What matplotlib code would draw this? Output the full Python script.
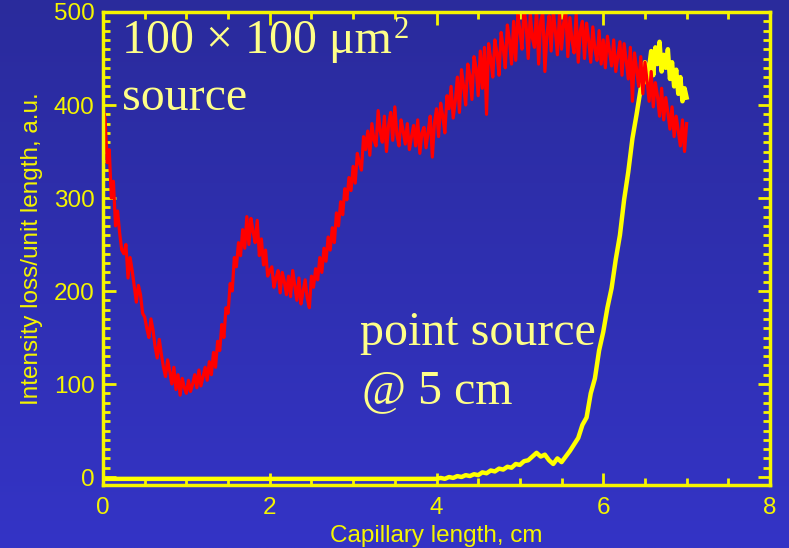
import numpy as np
import matplotlib
matplotlib.use("Agg")
import matplotlib.pyplot as plt
from matplotlib.ticker import MultipleLocator

# red curve: 100x100 um^2 source, sampled every 0.025 cm from 0 to 7 cm
red_y = [
    # 0 - 1 cm
    398, 385, 338, 352, 300, 318, 270, 286, 262, 244, 240, 250, 214, 236, 222, 205, 188, 206, 196, 176,
    172, 160, 150, 170, 158, 140, 128, 148, 132, 118, 108, 126, 114, 100, 118, 94, 110, 88, 106, 96, 90,
    # 1 - 2 cm
    104, 92, 100, 110, 96, 115, 98, 108, 118, 104, 124, 110, 134, 118, 146, 136, 164, 150, 182, 176,
    208, 200, 236, 226, 252, 238, 266, 246, 280, 250, 278, 264, 252, 276, 238, 256, 228, 244, 216, 222,
    # 2 - 3 cm
    226, 204, 214, 222, 198, 220, 210, 196, 216, 194, 222, 206, 190, 214, 186, 200, 212, 192, 182, 216,
    204, 224, 212, 236, 220, 246, 232, 258, 244, 268, 252, 284, 270, 296, 282, 310, 298, 322, 308, 334,
    # 3 - 4 cm
    316, 348, 338, 330, 366, 352, 372, 346, 380, 362, 356, 394, 372, 360, 388, 350, 378, 392, 362, 398,
    368, 356, 384, 372, 358, 380, 352, 366, 378, 356, 384, 348, 370, 376, 354, 372, 388, 344, 380, 396,
    # 4 - 5 cm
    366, 402, 388, 370, 410, 396, 420, 386, 404, 430, 392, 438, 420, 400, 444, 432, 406, 452, 440, 410,
    458, 418, 462, 390, 466, 450, 430, 470, 456, 432, 478, 462, 440, 486, 470, 444, 490, 448, 498, 480,
    # 5 - 6 cm
    460, 504, 486, 450, 498, 472, 462, 504, 444, 490, 500, 436, 476, 496, 458, 502, 480, 454, 498, 460,
    488, 502, 452, 494, 470, 456, 498, 446, 480, 490, 450, 488, 470, 446, 484, 460, 448, 480, 444, 470,
    # 6 - 7 cm
    440, 474, 458, 442, 470, 436, 452, 468, 432, 466, 448, 428, 462, 404, 456, 438, 420, 452, 412, 446,
    426, 404, 436, 398, 424, 410, 388, 418, 384, 408, 392, 374, 398, 366, 388, 372, 356, 384, 350, 380,
]
red_x = np.linspace(0, 7, len(red_y))

# yellow curve: point source @ 5 cm
yel_x = [0, 1, 2, 3] + list(np.round(np.linspace(4, 6.4, 49), 3)) + list(np.round(np.linspace(6.425, 7, 24), 3))
yel_y = [-2, -2, -2, -2,
         -2, -1, -2, 0, -1, 1, 0, 2, 1, 3,
         2, 5, 4, 7, 6, 9, 8, 11, 10, 14,
         13, 17, 18, 22, 26, 22, 24, 18, 14, 20,
         16, 22, 28, 35, 42, 56, 64, 90, 106, 136,
         156, 182, 203, 234, 260, 298, 328, 364, 390,
         404, 418, 430, 446, 424, 440, 458, 432, 462, 444, 468, 436,
         454, 440, 460, 428, 446, 420, 438, 412, 430, 404, 418, 408]

x_ticks = [0, 2, 4, 6, 8]
y_ticks = [0, 100, 200, 300, 400, 500]

yellow = '#f5f500'
pale = '#ffff88'
sans = 'Liberation Sans'
serif = 'Liberation Serif'

fig = plt.figure(figsize=(7.89, 5.48), dpi=100)

# background gradient, a bit darker at the top
top = np.array([0x2a, 0x2b, 0x9c]) / 255
bot = np.array([0x34, 0x34, 0xc6]) / 255
t = np.linspace(0, 1, 256)[:, None]
grad = top[None, :] * (1 - t) + bot[None, :] * t
bg = fig.add_axes([0, 0, 1, 1], zorder=-1)
bg.imshow(grad[:, None, :].repeat(2, axis=1), aspect='auto', extent=[0, 1, 0, 1])
bg.axis('off')

ax = fig.add_axes([103 / 789, 1 - 485 / 548, 667 / 789, 473 / 548])
ax.patch.set_alpha(0)

ax.plot(yel_x, yel_y, color='#ffff00', lw=3.2)
ax.plot(red_x, red_y, color='#ff0000', lw=2.3)

ax.set_xlim(0, 8)
ax.set_ylim(-8.6, 500)
ax.set_xticks(x_ticks)
ax.set_yticks(y_ticks)
ax.xaxis.set_minor_locator(MultipleLocator(0.5))
ax.yaxis.set_minor_locator(MultipleLocator(10))
ax.tick_params(which='both', direction='in', top=True, right=True, color=yellow, width=2)
ax.tick_params(which='major', length=9)
ax.tick_params(which='minor', length=5)
ax.tick_params(axis='x', pad=9)
ax.tick_params(axis='y', pad=6)
for lab in ax.get_xticklabels() + ax.get_yticklabels():
    lab.set_color(yellow)
    lab.set_fontsize(17.5)
    lab.set_family(sans)
for s in ax.spines.values():
    s.set_color(yellow)
    s.set_linewidth(2.5)

ax.set_xlabel('Capillary length, cm', color=yellow, fontsize=17.5, family=sans, labelpad=4)
ax.set_ylabel('Intensity loss/unit length, a.u.', color=yellow, fontsize=17.5, family=sans, labelpad=8)

big = 34.5
t1 = fig.text(122 / 789, 1 - 53 / 548, '100 \u00d7 100 \u03bcm', fontsize=big, family=serif,
              color=pale, va='baseline')
fig.text(122 / 789, 1 - 110 / 548, 'source', fontsize=big, family=serif, color=pale, va='baseline')
fig.text(360 / 789, 1 - 345 / 548, 'point source', fontsize=big, family=serif, color=pale,
         va='baseline')
fig.text(362 / 789, 1 - 403 / 548, '@ 5 cm', fontsize=big, family=serif, color=pale, va='baseline')

# superscript 2 right after the "m"
fig.canvas.draw()
bb = t1.get_window_extent()
fig.text(bb.x1 / fig.bbox.width + 0.002, 1 - 38 / 548, '2', fontsize=22, family=serif,
         color=pale, va='baseline')

fig.savefig('out.png', dpi=100)
